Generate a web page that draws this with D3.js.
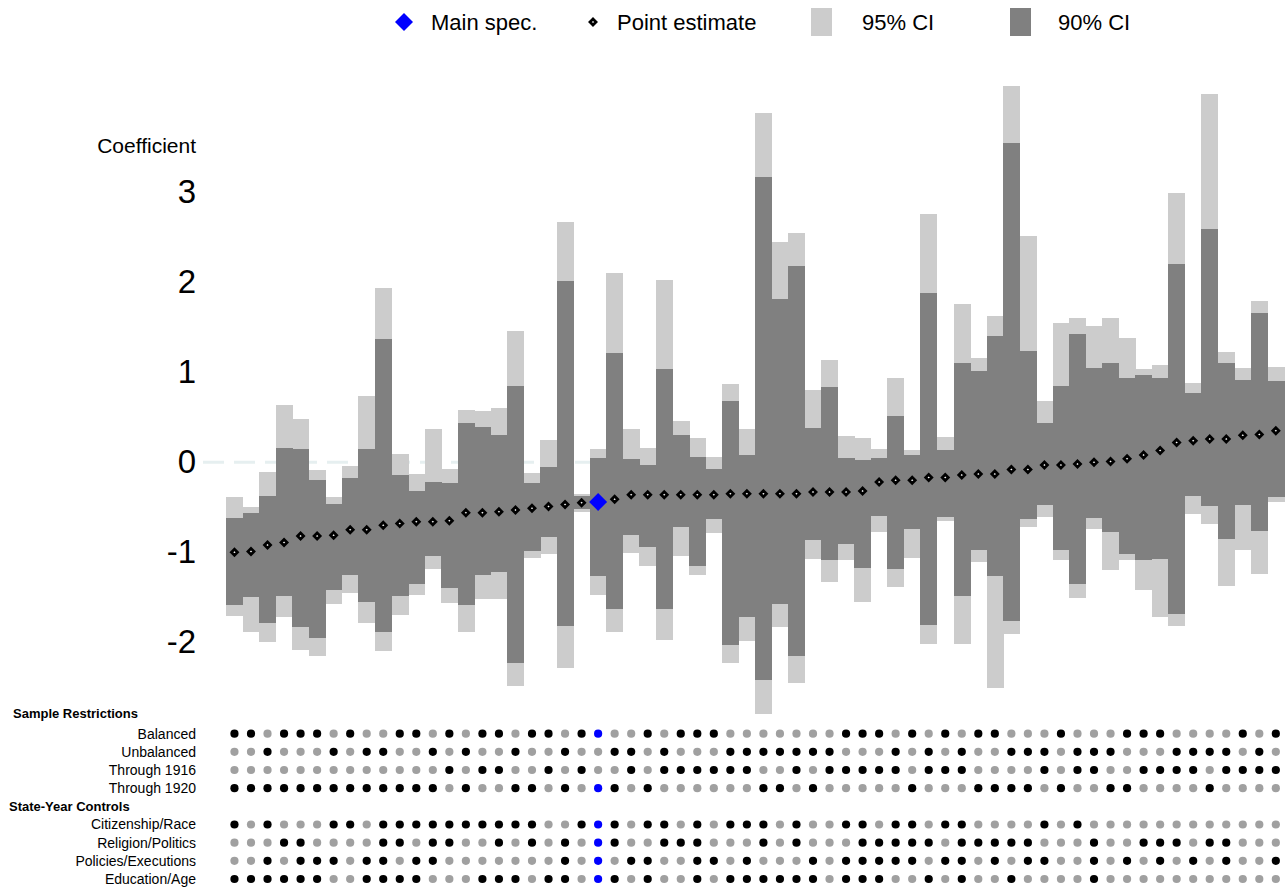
<!DOCTYPE html>
<html>
<head>
<meta charset="utf-8">
<script src="https://cdn.jsdelivr.net/npm/d3@7"></script>
<style>
  body { margin: 0; background: #fff; }
  svg { display: block; font-family: "Liberation Sans", Arial, sans-serif; }
</style>
</head>
<body>
<div id="chart"></div>
<script>
// spec curve: point estimates sorted, with 90/95 CI bars and a spec matrix below

const mainSpec = 22; // index of the main specification

const estimate = [-1.00, -0.99, -0.92, -0.89, -0.82, -0.82, -0.81, -0.75, -0.75, -0.70,
  -0.68, -0.66, -0.66, -0.65, -0.56, -0.56, -0.55, -0.53, -0.51, -0.49,
  -0.47, -0.45, -0.44, -0.41, -0.36, -0.36, -0.36, -0.36, -0.36, -0.36,
  -0.35, -0.35, -0.35, -0.35, -0.35, -0.33, -0.33, -0.33, -0.32, -0.22,
  -0.20, -0.20, -0.17, -0.17, -0.14, -0.13, -0.13, -0.08, -0.08, -0.03,
  -0.03, -0.02, 0.00, 0.01, 0.04, 0.08, 0.13, 0.22, 0.24, 0.26,
  0.26, 0.30, 0.31, 0.35];

const ci95High = [-0.38, -0.50, -0.11, 0.64, 0.48, -0.09, -0.38, -0.04, 0.74, 1.94,
  0.09, -0.13, 0.37, -0.07, 0.58, 0.57, 0.60, 1.46, -0.12, 0.25,
  2.67, -0.35, 0.15, 2.10, 0.37, 0.16, 2.03, 0.46, 0.27, 0.06,
  0.87, 0.37, 3.88, 2.45, 2.55, 0.80, 1.14, 0.29, 0.27, 0.15,
  0.94, 0.14, 2.76, 0.28, 1.76, 1.16, 1.63, 4.18, 2.51, 0.68,
  1.55, 1.60, 1.52, 1.60, 1.38, 1.04, 1.08, 2.99, 0.88, 4.09,
  1.23, 1.05, 1.79, 1.06];

const ci90High = [-0.62, -0.56, -0.37, 0.16, 0.15, -0.20, -0.46, -0.17, 0.15, 1.37,
  -0.14, -0.32, -0.22, -0.23, 0.44, 0.39, 0.30, 0.85, -0.23, -0.05,
  2.01, -0.37, 0.05, 1.21, 0.04, -0.03, 1.04, 0.30, 0.06, -0.07,
  0.68, 0.08, 3.17, 1.81, 2.18, 0.38, 0.84, 0.05, 0.03, 0.05,
  0.52, 0.08, 1.88, 0.14, 1.10, 1.02, 1.40, 3.55, 1.24, 0.44,
  0.85, 1.43, 1.05, 1.10, 0.94, 0.97, 0.94, 2.20, 0.77, 2.59,
  1.10, 0.91, 1.66, 0.90];

const ci90Low = [-1.59, -1.50, -1.78, -1.49, -1.83, -1.95, -1.42, -1.25, -1.55, -1.89,
  -1.49, -1.35, -1.04, -1.40, -1.59, -1.25, -1.22, -2.23, -0.99, -0.83,
  -1.82, -0.52, -1.26, -1.63, -0.81, -0.94, -1.63, -0.72, -1.15, -0.63,
  -2.03, -1.72, -2.42, -1.57, -2.15, -0.86, -1.08, -0.91, -1.17, -0.60,
  -1.19, -0.74, -1.81, -0.61, -1.48, -0.97, -1.26, -1.76, -0.63, -0.47,
  -0.97, -1.35, -0.62, -0.77, -1.02, -1.09, -1.07, -1.68, -0.37, -0.48,
  -0.85, -0.47, -0.76, -0.39];

const ci95Low = [-1.71, -1.89, -2.00, -1.72, -2.08, -2.15, -1.57, -1.45, -1.78, -2.10,
  -1.70, -1.47, -1.18, -1.56, -1.88, -1.52, -1.52, -2.48, -1.06, -1.02,
  -2.29, -0.55, -1.47, -1.89, -1.01, -1.15, -1.97, -1.04, -1.25, -0.79,
  -2.23, -1.98, -2.80, -1.83, -2.45, -1.07, -1.33, -1.09, -1.55, -0.77,
  -1.38, -1.06, -2.02, -0.65, -2.02, -1.11, -2.51, -1.91, -0.72, -0.61,
  -1.09, -1.51, -0.74, -1.20, -1.08, -1.42, -1.72, -1.82, -0.57, -0.68,
  -1.37, -0.97, -1.24, -0.44];

const yTicks = [-2, -1, 0, 1, 2, 3];

// spec matrix: 1 = included (black), 0 = not included (gray)
const groupLabels = ["Sample Restrictions", "State-Year Controls"];
const sampleLabels = ["Balanced", "Unbalanced", "Through 1916", "Through 1920"];
const sampleRows = [
  "110111010011" + "01011011011001011100000001" + "11010101100010001110000101",
  "001000101100" + "10100100100110100011111110" + "00101010011101110001111010",
  "000000000000" + "01011001010010111111001011" + "11101110000101100111101111",
  "111111111111" + "10100110101101000000110100" + "00010001111010011000010000"
];
const controlLabels = ["Citizenship/Race", "Religion/Politics", "Policies/Executions", "Education/Age"];
const controlRows = [
  "101000110111" + "11111110011101101011101001" + "10110110000101000000000000",
  "000110000110" + "11001010101100111000101000" + "11111011111000100111011000",
  "001011101101" + "10000000101011001101000101" + "11110110101100101010101001",
  "111111001111" + "00011101101101001011111101" + "11001010010000100000000000"
];

const legendItems = ["Main spec.", "Point estimate", "95% CI", "90% CI"];

const width = 1286;
const height = 890;

const svg = d3.select("#chart").append("svg")
  .attr("width", width)
  .attr("height", height);

const x = d3.scaleBand()
  .domain(d3.range(estimate.length))
  .range([226.2, 1284.1])
  .padding(0);

const y = d3.scaleLinear()
  .domain([-2, 3])
  .range([642.3, 192.3]);

const diamond = r => `M0,${-r}L${r},0L0,${r}L${-r},0Z`;

// zero line (behind the bars)
svg.append("line")
  .attr("x1", 203)
  .attr("x2", width)
  .attr("y1", y(0))
  .attr("y2", y(0))
  .attr("stroke", "#e6eff0")
  .attr("stroke-width", 3)
  .attr("stroke-dasharray", "21,10");

// 95% CI
svg.append("g")
  .attr("shape-rendering", "crispEdges")
  .selectAll("rect")
  .data(estimate)
  .join("rect")
  .attr("x", (d, i) => x(i))
  .attr("width", x.bandwidth() + 0.5)
  .attr("y", (d, i) => y(ci95High[i]))
  .attr("height", (d, i) => y(ci95Low[i]) - y(ci95High[i]))
  .attr("fill", "#cccccc");

// 90% CI
svg.append("g")
  .attr("shape-rendering", "crispEdges")
  .selectAll("rect")
  .data(estimate)
  .join("rect")
  .attr("x", (d, i) => x(i))
  .attr("width", x.bandwidth() + 0.5)
  .attr("y", (d, i) => y(ci90High[i]))
  .attr("height", (d, i) => y(ci90Low[i]) - y(ci90High[i]))
  .attr("fill", "#808080");

// point estimates
svg.append("g")
  .selectAll("path")
  .data(estimate)
  .join("path")
  .attr("transform", (d, i) => `translate(${x(i) + x.bandwidth() / 2},${y(d)})`)
  .attr("d", (d, i) => i === mainSpec ? diamond(9) : diamond(3))
  .attr("fill", (d, i) => i === mainSpec ? "#0000ff" : "#fff")
  .attr("stroke", (d, i) => i === mainSpec ? "none" : "#000")
  .attr("stroke-width", 2.8);

// y axis (labels only), plain hyphen for negatives
const yAxis = svg.append("g")
  .attr("transform", "translate(196,0)")
  .call(d3.axisLeft(y).tickValues(yTicks).tickSize(0).tickPadding(0).tickFormat(d => String(d)));
yAxis.select(".domain").remove();
yAxis.selectAll("text")
  .attr("font-family", "Liberation Sans, Arial, sans-serif")
  .attr("font-size", 33)
  .attr("fill", "#000");

svg.append("text")
  .attr("x", 196)
  .attr("y", 146)
  .attr("dy", "0.35em")
  .attr("text-anchor", "end")
  .attr("font-size", 21)
  .text("Coefficient");

// legend
const legend = svg.append("g").attr("font-size", 22);
legend.append("path")
  .attr("transform", "translate(404,22)")
  .attr("d", diamond(9))
  .attr("fill", "#0000ff");
legend.append("text").attr("x", 431).attr("y", 22).attr("dy", "0.35em").text(legendItems[0]);
legend.append("path")
  .attr("transform", "translate(593,22)")
  .attr("d", diamond(3))
  .attr("fill", "#fff")
  .attr("stroke", "#000")
  .attr("stroke-width", 2.8);
legend.append("text").attr("x", 617).attr("y", 22).attr("dy", "0.35em").text(legendItems[1]);
legend.append("rect").attr("x", 811).attr("y", 8).attr("width", 21).attr("height", 28).attr("fill", "#cccccc");
legend.append("text").attr("x", 862).attr("y", 22).attr("dy", "0.35em").text(legendItems[2]);
legend.append("rect").attr("x", 1010).attr("y", 8).attr("width", 21).attr("height", 28).attr("fill", "#808080");
legend.append("text").attr("x", 1058).attr("y", 22).attr("dy", "0.35em").text(legendItems[3]);

// spec matrix
const rowY = d3.scalePoint()
  .domain(d3.range(10))
  .range([715.5, 879]);

const matrixRows = [
  { header: groupLabels[0] },
  ...sampleLabels.map((label, k) => ({ label, flags: sampleRows[k] })),
  { header: groupLabels[1] },
  ...controlLabels.map((label, k) => ({ label, flags: controlRows[k] }))
];

matrixRows.forEach((row, r) => {
  if (row.header) {
    svg.append("text")
      .attr("x", r === 0 ? 13 : 9)
      .attr("y", r === 0 ? rowY(r) - 2.5 : rowY(r) + 0.5)
      .attr("dy", "0.35em")
      .attr("font-size", 13)
      .attr("font-weight", "bold")
      .text(row.header);
    return;
  }
  svg.append("text")
    .attr("x", 196)
    .attr("y", rowY(r))
    .attr("dy", "0.35em")
    .attr("text-anchor", "end")
    .attr("font-size", 14)
    .text(row.label);

  svg.append("g")
    .selectAll("circle")
    .data(row.flags.split("").map(Number))
    .join("circle")
    .attr("cx", (d, i) => x(i) + x.bandwidth() / 2)
    .attr("cy", rowY(r))
    .attr("r", 4.1)
    .attr("fill", (d, i) => d === 1 ? (i === mainSpec ? "#0000ff" : "#000") : "#a0a0a0");
});
</script>
</body>
</html>
